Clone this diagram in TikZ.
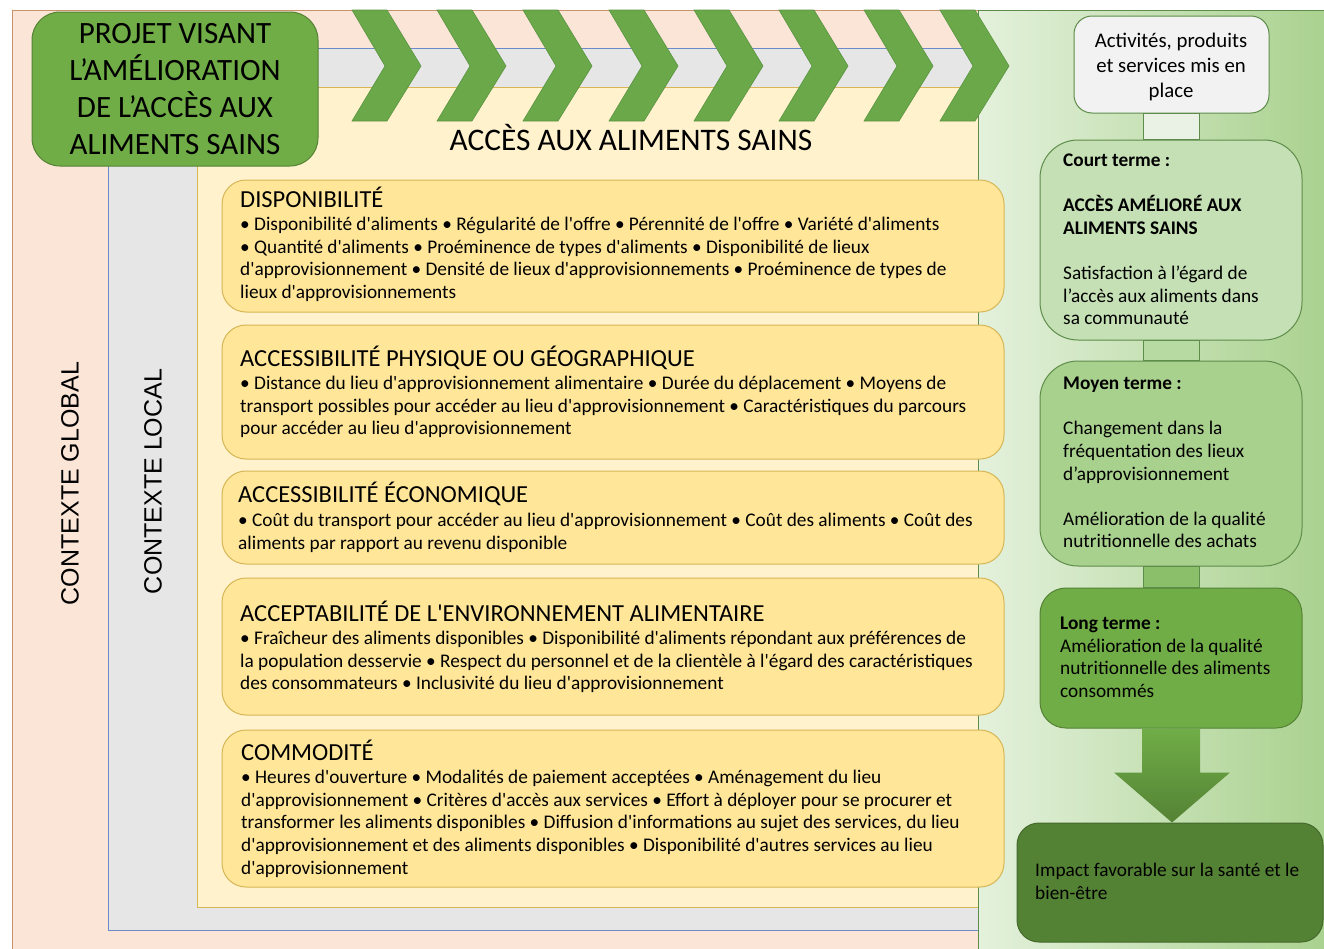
\documentclass[tikz,border=0pt]{standalone}
\usepackage{fontspec}
\setmainfont{Carlito}[Ligatures=TeXOff]
\newfontfamily\arialf{Liberation Sans}
\definecolor{peach}{HTML}{FBE5D6}
\definecolor{peachd}{HTML}{C9926A}
\definecolor{grayf}{HTML}{E6E6E6}
\definecolor{grayd}{HTML}{6A8BC8}
\definecolor{ylight}{HTML}{FFF2CC}
\definecolor{ybord}{HTML}{D6B656}
\definecolor{yfill}{HTML}{FFE699}
\definecolor{gpl}{HTML}{E4F1DC}
\definecolor{gpr}{HTML}{A9D18E}
\definecolor{gbord}{HTML}{5E8C4A}
\definecolor{g70}{HTML}{70AD47}
\definecolor{g54}{HTML}{548235}
\definecolor{gdark}{HTML}{44692B}
\definecolor{chevg}{HTML}{6AA84A}
\definecolor{chevd}{HTML}{5A9440}
\definecolor{cfill}{HTML}{C5E0B4}
\definecolor{mfill}{HTML}{A9D18E}
\definecolor{actf}{HTML}{F2F2F2}
\definecolor{conn1}{HTML}{EAF2E5}
\definecolor{conn2}{HTML}{B7D9A2}
\definecolor{conn3}{HTML}{8CBF6A}
\begin{document}
\begin{tikzpicture}[x=1pt,y=-1pt,
  ybox/.style={draw=ybord, fill=yfill, line width=1pt, rounded corners=24pt, minimum width=782pt, inner sep=0pt},
  rbox/.style={draw=gbord, line width=1pt, inner sep=0pt},
  body/.style={anchor=north west, inner sep=0pt, align=left, font=\fontsize{19.3}{22.6}\selectfont},
  head/.style={anchor=base west, inner sep=0pt, font=\fontsize{24.5}{28}\selectfont},
  chev/.style={fill=chevg, draw=chevd, line width=0.6pt},
  connbox/.style={draw=gbord, line width=0.8pt},
]
\useasboundingbox (0,0) rectangle (1324,948);
\clip (0,0) rectangle (1324,948);
% context frames
\draw[fill=peach, draw=peachd, line width=1pt] (12,10) rectangle (1000,960);
\draw[fill=grayf, draw=grayd, line width=1pt] (108,48) rectangle (1000,930);
\draw[fill=ylight, draw=ybord, line width=1pt] (197,87) rectangle (1000,907);
% right green panel
\shade[left color=gpl, right color=gpr] (978,10) rectangle (1330,950);
\draw[draw=gbord, line width=1pt] (978,950) -- (978,10) -- (1330,10);
% chevrons
\foreach \x in {352,437,523,609,694,779,864,940}{
  \draw[chev] (\x,10) -- ({\x+35},10) -- ({\x+69},66) -- ({\x+35},121) -- (\x,121) -- ({\x+33},66) -- cycle;
}
% title
\node[draw=g54, fill=g70, line width=1pt, rounded corners=28pt, minimum width=286pt, minimum height=154pt] (title) at (175,89) {};
\node[anchor=north, inner sep=0pt, align=center, font=\fontsize{31}{37}\selectfont] (titletxt) at (175,17.1)
  {\strut PROJET VISANT\\L’AMÉLIORATION\\DE L’ACCÈS AUX\\ALIMENTS SAINS};
\node[anchor=base, inner sep=0pt, font=\fontsize{31.4}{36}\selectfont] (acces) at (631,150) {ACCÈS AUX ALIMENTS SAINS};
% context labels
\node[rotate=90, inner sep=0pt, font=\arialf\fontsize{25}{30}\selectfont] (cglobal) at (70,483.5) {CONTEXTE GLOBAL};
\node[rotate=90, inner sep=0pt, font=\arialf\fontsize{25}{30}\selectfont] (clocal) at (153,481.5) {CONTEXTE LOCAL};
% yellow boxes
\node[ybox, minimum height=132pt] (b1) at (613,246) {};
\node[ybox, minimum height=134pt] (b2) at (613,392) {};
\node[ybox, minimum height=93pt] (b3) at (613,517.5) {};
\node[ybox, minimum height=137pt] (b4) at (613,646.5) {};
\node[ybox, minimum height=157pt] (b5) at (613,808.5) {};
\node[head] (h1) at (240,207) {DISPONIBILITÉ};
\node[body] (t1) at (240,214.7) {\strut • Disponibilité d'aliments • Régularité de l'offre • Pérennité de l'offre • Variété d'aliments\\
• Quantité d'aliments • Proéminence de types d'aliments • Disponibilité de lieux\\
d'approvisionnement • Densité de lieux d'approvisionnements • Proéminence de types de\\
lieux d'approvisionnements};
\node[head] (h2) at (240,366) {ACCESSIBILITÉ PHYSIQUE OU GÉOGRAPHIQUE};
\node[body] (t2) at (240,373.7) {\strut • Distance du lieu d'approvisionnement alimentaire • Durée du déplacement • Moyens de\\
transport possibles pour accéder au lieu d'approvisionnement • Caractéristiques du parcours\\
pour accéder au lieu d'approvisionnement};
\node[head] (h3) at (238,502) {ACCESSIBILITÉ ÉCONOMIQUE};
\node[body] (t3) at (238,510.7) {\strut • Coût du transport pour accéder au lieu d'approvisionnement • Coût des aliments • Coût des\\
aliments par rapport au revenu disponible};
\node[head] (h4) at (240,621) {ACCEPTABILITÉ DE L'ENVIRONNEMENT ALIMENTAIRE};
\node[body] (t4) at (240,628.7) {\strut • Fraîcheur des aliments disponibles • Disponibilité d'aliments répondant aux préférences de\\
la population desservie • Respect du personnel et de la clientèle à l'égard des caractéristiques\\
des consommateurs • Inclusivité du lieu d'approvisionnement};
\node[head] (h5) at (241,760) {COMMODITÉ};
\node[body] (t5) at (241,767.7) {\strut • Heures d'ouverture • Modalités de paiement acceptées • Aménagement du lieu\\
d'approvisionnement • Critères d'accès aux services • Effort à déployer pour se procurer et\\
transformer les aliments disponibles • Diffusion d'informations au sujet des services, du lieu\\
d'approvisionnement et des aliments disponibles • Disponibilité d'autres services au lieu\\
d'approvisionnement};
% right column boxes
\node[rbox, fill=actf, rounded corners=18pt, minimum width=195pt, minimum height=97pt] (act) at (1171.5,64.5) {};
\node[rbox, fill=cfill, rounded corners=38pt, minimum width=262pt, minimum height=200pt] (court) at (1171,240) {};
\node[rbox, fill=mfill, rounded corners=38pt, minimum width=262pt, minimum height=205pt] (moyen) at (1171,463.5) {};
\node[rbox, fill=g70, draw=g54, rounded corners=26pt, minimum width=262pt, minimum height=140pt] (long) at (1171,658) {};
\node[rbox, fill=g54, draw=gdark, rounded corners=22pt, minimum width=306pt, minimum height=119pt] (impact) at (1170,882.5) {};
% connectors
\draw[connbox, fill=conn1] ([xshift=-28pt]act.south) rectangle ([xshift=28pt]court.north);
\draw[connbox, fill=conn2] ([xshift=-28pt]court.south) rectangle ([xshift=28pt]moyen.north);
\draw[connbox, fill=conn3] ([xshift=-28pt]moyen.south) rectangle ([xshift=28pt]long.north);
\shade[top color=g70, bottom color=g54] ([xshift=-29pt]long.south) -- ([xshift=-29pt,yshift=-44pt]long.south) -- ([xshift=-57pt,yshift=-44pt]long.south) -- ([xshift=2pt]impact.north) -- ([xshift=59pt,yshift=-44pt]long.south) -- ([xshift=29pt,yshift=-44pt]long.south) -- ([xshift=29pt]long.south) -- cycle;
% right column texts
\node[anchor=north, inner sep=0pt, align=center, font=\fontsize{20.8}{25}\selectfont] (acttxt) at (1171,29.5) {\strut Activités, produits\\et services mis en\\place};
\node[body] (courttxt) at (1063,150.7) {\strut\textbf{Court terme :}\\ \mbox{}\\ \textbf{ACCÈS AMÉLIORÉ AUX}\\ \textbf{ALIMENTS SAINS}\\ \mbox{}\\ Satisfaction à l’égard de\\ l’accès aux aliments dans\\ sa communauté};
\node[body] (moyentxt) at (1063,373.7) {\strut\textbf{Moyen terme :}\\ \mbox{}\\ Changement dans la\\ fréquentation des lieux\\ d’approvisionnement\\ \mbox{}\\ Amélioration de la qualité\\ nutritionnelle des achats};
\node[body] (longtxt) at (1060,613.7) {\strut\textbf{Long terme :}\\ Amélioration de la qualité\\ nutritionnelle des aliments\\ consommés};
\node[body] (impacttxt) at (1035,860.7) {\strut Impact favorable sur la santé et le\\ bien-être};
\end{tikzpicture}
\end{document}
